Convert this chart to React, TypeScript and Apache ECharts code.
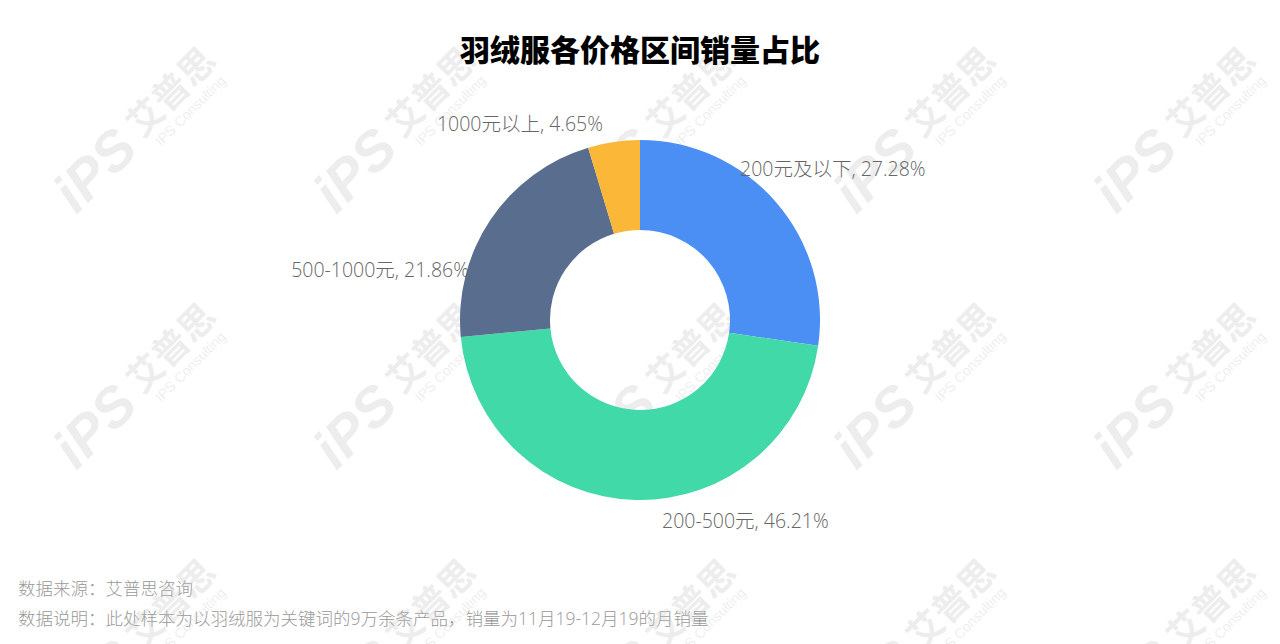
import React, { useEffect, useRef } from "react";
import * as echarts from "echarts";

const TITLE = "羽绒服各价格区间销量占比";
const CATEGORIES = ["200元及以下", "200-500元", "500-1000元", "1000元以上"];
const VALUES = [27.28, 46.21, 21.86, 4.65];
const COLORS = ["#4b8ef4", "#40d9a7", "#596e8f", "#fbb838"];
const FOOTNOTES = [
  "数据来源：艾普思咨询",
  "数据说明：此处样本为以羽绒服为关键词的9万余条产品，销量为11月19-12月19的月销量",
];

// label anchor placement (x, y, align) for each slice label
const LABEL_PLACES: [number, number, "left" | "right"][] = [
  [740, 168, "left"],
  [662, 520, "left"],
  [469, 269, "right"],
  [603, 123, "right"],
];

const FONT = "'Open Sans', 'Noto Sans CJK SC', sans-serif";
const CJK = "'Noto Sans CJK SC', sans-serif";
const WM = "rgba(200,200,200,0.32)";

function watermarks() {
  const out: any[] = [];
  for (let j = 0; j < 3; j++) {
    for (let i = 0; i < 5; i++) {
      const cx = 132 + 260 * i;
      const cy = 132 + 256 * j;
      out.push({
        type: "group",
        x: cx,
        y: cy,
        rotation: Math.PI / 4,
        silent: true,
        z: 100,
        children: [
          {
            type: "text",
            x: -8,
            y: 0,
            style: {
              text: "iPS",
              font: `italic bold 56px Arial, sans-serif`,
              fill: WM,
              align: "right",
              verticalAlign: "middle",
            },
          },
          {
            type: "text",
            x: 2,
            y: -4,
            style: {
              text: "艾普思",
              font: `bold 36px ${CJK}`,
              fill: WM,
              align: "left",
              verticalAlign: "middle",
            },
          },
          {
            type: "text",
            x: 10,
            y: 26,
            style: {
              text: "IPS Consulting",
              font: `14px Arial, sans-serif`,
              fill: WM,
              align: "left",
              verticalAlign: "middle",
            },
          },
        ],
      });
    }
  }
  return out;
}

export default function App() {
  const ref = useRef<HTMLDivElement>(null);
  useEffect(() => {
    if (!ref.current) return;
    const chart = echarts.init(ref.current, undefined, { renderer: "svg" });
    const data = CATEGORIES.map((name, i) => ({
      name,
      value: VALUES[i],
      itemStyle: { color: COLORS[i] },
    }));
    chart.setOption({
      animation: false,
      backgroundColor: "#fff",
      title: {
        text: TITLE,
        left: "center",
        top: 28,
        textStyle: {
          fontFamily: CJK,
          fontSize: 30,
          fontWeight: 900,
          color: "#000",
        },
      },
      series: [
        {
          type: "pie",
          center: [640, 320],
          radius: [90, 180],
          startAngle: 90,
          clockwise: true,
          data,
          label: {
            show: true,
            position: "outside",
            formatter: (p: any) => `${p.name}, ${p.value.toFixed(2)}%`,
            fontFamily: FONT,
            fontSize: 19.5,
            fontWeight: 300,
            color: "#666",
          },
          labelLine: { show: false },
          labelLayout: (params: any) => {
            const pl = LABEL_PLACES[params.dataIndex];
            return { x: pl[0], y: pl[1], align: pl[2], verticalAlign: "middle" };
          },
          emphasis: { disabled: true },
        },
      ],
      graphic: [
        {
          type: "text",
          left: 18,
          top: 579,
          style: {
            text: FOOTNOTES[0],
            font: `300 17.5px ${FONT}`,
            fill: "#999",
          },
        },
        {
          type: "text",
          left: 18,
          top: 609,
          style: {
            text: FOOTNOTES[1],
            font: `300 17.5px ${FONT}`,
            fill: "#999",
          },
        },
        ...watermarks(),
      ],
    });
    return () => chart.dispose();
  }, []);
  return (
    <div
      ref={ref}
      style={{ position: "fixed", left: 0, top: 0, width: 1280, height: 644 }}
    />
  );
}
